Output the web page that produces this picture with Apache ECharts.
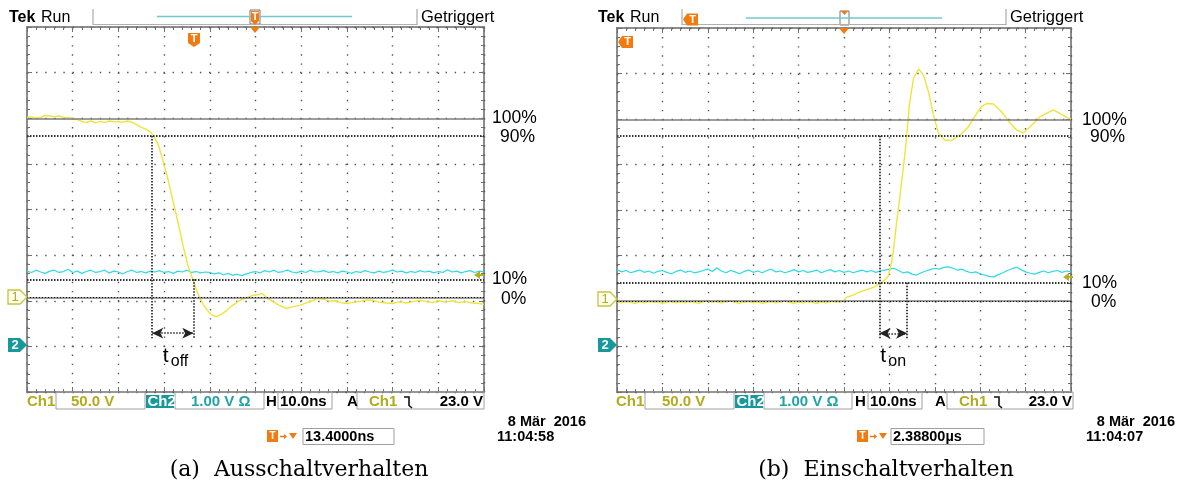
<!DOCTYPE html>
<html><head><meta charset="utf-8">
<script src="https://cdn.jsdelivr.net/npm/echarts@6/dist/echarts.min.js"></script>
<style>html,body{margin:0;padding:0;background:#fff}#c{width:1183px;height:491px}</style>
</head><body><div id="c"></div>
<script>
// ---- data (time in ns, 10 ns/div; amplitude in divisions from screen centre) ----
const tNs = [0,1,2,3,4,5,6,7,8,9,10,11,12,13,14,15,16,17,18,19,20,21,22,23,24,25,26,27,28,29,30,31,32,33,34,35,36,37,38,39,40,41,42,43,44,45,46,47,48,49,50,51,52,53,54,55,56,57,58,59,60,61,62,63,64,65,66,67,68,69,70,71,72,73,74,75,76,77,78,79,80,81,82,83,84,85,86,87,88,89,90,91,92,93,94,95,96,97,98,99,100];

const offCh1 = [[0,2.01],[1,2.03],[2,2.00],[3,2.02],[4,2.06],[5,2.05],[6,2.03],[7,2.05],[8,2.02],[9,2.01],[10,2.00],[11,1.97],[12,1.93],[13,1.91],[14,1.94],[15,1.90],[16,1.93],[17,1.91],[18,1.94],[19,1.92],[20,1.93],[21,1.91],[22,1.94],[23,1.91],[24,1.86],[25,1.80],[26,1.76],[27,1.70],[27.5,1.64],[28,1.56],[28.8,1.40],[29.5,1.16],[30.2,0.90],[30.9,0.64],[31.6,0.33],[32.4,0.00],[33.3,-0.40],[34.2,-0.82],[35.3,-1.26],[36.4,-1.56],[37.2,-1.80],[37.9,-1.95],[38.8,-2.12],[39.7,-2.24],[40.6,-2.32],[41.5,-2.35],[42.5,-2.30],[43.7,-2.21],[45,-2.10],[46.6,-1.99],[48,-1.93],[49.5,-1.88],[50.5,-1.87],[51.4,-1.84],[52.5,-1.93],[53.8,-2.02],[55.2,-2.10],[56.8,-2.17],[58.2,-2.13],[59.7,-2.10],[61,-2.05],[62.4,-2.00],[63.7,-1.95],[65,-1.97],[66.2,-2.01],[67.5,-2.00],[68.7,-2.04],[70,-2.06],[71.5,-2.03],[73,-2.01],[74.5,-1.98],[75.7,-1.99],[77,-2.03],[78.5,-2.05],[80,-2.06],[81.5,-2.02],[83,-2.05],[84.5,-2.02],[86,-1.99],[87.5,-2.02],[88.8,-2.04],[90,-2.00],[91.5,-2.03],[93.2,-2.00],[94.5,-2.04],[96,-2.02],[97.5,-2.05],[99,-2.06],[100,-2.08]];

const offCh2 = [-1.35,-1.38,-1.33,-1.37,-1.40,-1.35,-1.33,-1.38,-1.36,-1.31,
 -1.38,-1.35,-1.40,-1.36,-1.33,-1.38,-1.36,-1.33,-1.39,-1.35,
 -1.37,-1.41,-1.36,-1.33,-1.38,-1.36,-1.39,-1.35,-1.37,-1.34,
 -1.38,-1.36,-1.40,-1.35,-1.37,-1.33,-1.38,-1.36,-1.39,-1.37,
 -1.38,-1.41,-1.39,-1.43,-1.40,-1.44,-1.42,-1.45,-1.41,-1.38,
 -1.36,-1.39,-1.34,-1.37,-1.33,-1.38,-1.36,-1.33,-1.37,-1.39,
 -1.35,-1.38,-1.33,-1.37,-1.36,-1.34,-1.38,-1.36,-1.39,-1.35,
 -1.37,-1.40,-1.36,-1.38,-1.34,-1.37,-1.39,-1.35,-1.38,-1.36,
 -1.33,-1.37,-1.35,-1.39,-1.36,-1.38,-1.34,-1.37,-1.35,-1.39,
 -1.36,-1.38,-1.32,-1.37,-1.35,-1.39,-1.36,-1.34,-1.38,-1.35,-1.37];

const onCh1 = [[0,-2.02],[1,-2.04],[2,-2.01],[3,-2.03],[4,-2.05],[5,-2.02],[6,-2.04],[7,-2.01],[8,-2.03],[9,-2.02],[10,-2.05],[11,-2.03],[12,-2.01],[13,-2.04],[14,-2.02],[15,-2.04],[16,-2.01],[17,-2.03],[18,-2.05],[19,-2.02],[20,-2.00],[21,-2.03],[22,-2.01],[23,-2.04],[24,-2.02],[25,-2.00],[26,-2.03],[27,-2.05],[28,-2.02],[29,-2.01],[30,-2.04],[31,-2.02],[32,-2.05],[33,-2.03],[34,-2.01],[35,-2.04],[36,-2.02],[37,-2.00],[38,-2.03],[39,-2.05],[40,-2.02],[41,-2.04],[42,-2.01],[43,-2.03],[44,-2.05],[45,-2.02],[46,-2.04],[47,-2.02],[48,-2.01],[49,-2.03],[49.8,-2.00],[50.5,-1.92],[52,-1.87],[53.5,-1.80],[55,-1.75],[56.5,-1.70],[57.6,-1.63],[58.5,-1.58],[59.4,-1.50],[59.8,-1.44],[60.5,-1.14],[61.0,-0.80],[61.6,-0.26],[62.2,0.20],[62.7,0.62],[63.2,1.05],[63.7,1.50],[64.4,2.31],[65.3,2.89],[66.4,3.10],[67.5,2.97],[68.6,2.60],[69.7,2.09],[70.8,1.69],[72.2,1.54],[73.7,1.53],[75.6,1.65],[77.4,1.83],[79.2,2.12],[80.4,2.28],[81.4,2.34],[82.9,2.33],[84.7,2.16],[86.6,1.91],[88.0,1.76],[89.5,1.69],[91.0,1.83],[93.2,2.05],[96.1,2.20],[97.6,2.12],[99.4,2.02],[100,2.00]];

const onCh2 = [-1.31,-1.36,-1.33,-1.38,-1.35,-1.32,-1.37,-1.34,-1.39,-1.35,
 -1.33,-1.37,-1.40,-1.35,-1.32,-1.37,-1.34,-1.38,-1.36,-1.33,
 -1.30,-1.35,-1.27,-1.34,-1.38,-1.33,-1.36,-1.40,-1.35,-1.32,
 -1.37,-1.34,-1.38,-1.33,-1.30,-1.36,-1.34,-1.38,-1.35,-1.31,
 -1.36,-1.33,-1.37,-1.35,-1.32,-1.38,-1.34,-1.31,-1.36,-1.33,
 -1.37,-1.34,-1.38,-1.35,-1.32,-1.36,-1.33,-1.37,-1.34,-1.32,
 -1.30,-1.28,-1.33,-1.38,-1.36,-1.41,-1.43,-1.38,-1.34,-1.31,
 -1.28,-1.30,-1.26,-1.25,-1.28,-1.32,-1.30,-1.35,-1.38,-1.36,
 -1.40,-1.43,-1.46,-1.47,-1.42,-1.38,-1.33,-1.29,-1.26,-1.31,
 -1.36,-1.39,-1.41,-1.37,-1.34,-1.38,-1.35,-1.33,-1.37,-1.34,-1.36];

// cursor levels: 100 %, 90 %, 10 %, 0 %
const levelNames = ['100%','90%','10%','0%'];
const offLevels = [2.00, 1.61, -1.53, -1.93];
const onLevels  = [1.98, 1.63, -1.60, -2.00];
const offTimes = [27.4, 36.4];
const onTimes  = [57.8, 63.9];
const arrowLevel = -2.71;
const dropEnd = -2.82;

const timeTicks = {min:0, max:100, interval:10};
const divTicks  = {min:-4, max:4, interval:1};

// ---- chart ----
const FONT = "'Liberation Sans', Arial, sans-serif";
const YEL = '#eee53a', CYA = '#2fd9e6', OLIVE = '#b3ab1e', TEAL = '#17999b', ORANGE = '#f27a0f';

function xAx(grid, pos) {
  return {gridIndex:grid, type:'value', position:pos, min:timeTicks.min, max:timeTicks.max, interval:timeTicks.interval,
    axisLine:{show:false, onZero:false}, axisLabel:{show:false},
    axisTick:{show:true, inside:true, length:5, lineStyle:{color:'#707070', width:1}},
    minorTick:{show:true, splitNumber:5, length:3, lineStyle:{color:'#707070', width:1}},
    splitLine:{show:pos==='bottom', lineStyle:{color:'#555', width:1.4, type:[1.4,7.7]}}};
}
function yAx(grid, pos) {
  return {gridIndex:grid, type:'value', position:pos, min:divTicks.min, max:divTicks.max, interval:divTicks.interval,
    axisLine:{show:false, onZero:false}, axisLabel:{show:false},
    axisTick:{show:true, inside:true, length:5, lineStyle:{color:'#707070', width:1}},
    minorTick:{show:true, splitNumber:5, length:3, lineStyle:{color:'#707070', width:1}},
    splitLine:{show:pos==='left', lineStyle:{color:'#555', width:1.4, type:[1.4,7.7]}}};
}
function cursors(levels, times) {
  const dotted = {color:'#333', width:1.8, type:[1.5,1.5]};
  const solid = {color:'#7c7c7c', width:1.6, type:'solid'};
  return {silent:true, symbol:'none', animation:false, label:{show:false},
    data:[
      {yAxis:levels[0], lineStyle:solid},
      {yAxis:levels[1], lineStyle:dotted},
      {yAxis:levels[2], lineStyle:dotted},
      {yAxis:levels[3], lineStyle:solid},
      {yAxis:levels[3], lineStyle:{color:'#111', width:1, type:[1,2]}},
      [{coord:[times[0], levels[1]], lineStyle:dotted}, {coord:[times[0], dropEnd]}],
      [{coord:[times[1], levels[2]], lineStyle:dotted}, {coord:[times[1], dropEnd]}],
      [{coord:[times[0], arrowLevel], symbol:'arrow', symbolSize:[8,11], lineStyle:{color:'#222', width:1.5, type:[1.5,1.5]}, itemStyle:{color:'#111'}},
       {coord:[times[1], arrowLevel], symbol:'arrow', symbolSize:[8,11]}]
    ]};
}
function ch2Data(vals) { return tNs.map((t,i)=>[t, vals[i]]); }

const option = {
  animation:false, backgroundColor:'#fff',
  grid:[
    {left:27, top:27, width:457, height:365, show:true, borderColor:'#8c8c8c', borderWidth:2, backgroundColor:'#fff'},
    {left:617, top:28, width:454, height:364, show:true, borderColor:'#8c8c8c', borderWidth:2, backgroundColor:'#fff'}
  ],
  xAxis:[xAx(0,'bottom'), xAx(0,'top'), xAx(1,'bottom'), xAx(1,'top')],
  yAxis:[yAx(0,'left'), yAx(0,'right'), yAx(1,'left'), yAx(1,'right')],
  series:[
    {type:'line', xAxisIndex:0, yAxisIndex:0, data:ch2Data(offCh2), showSymbol:false, z:3,
      lineStyle:{color:CYA, width:1.2}, markLine:cursors(offLevels, offTimes)},
    {type:'line', xAxisIndex:0, yAxisIndex:0, data:offCh1, showSymbol:false, z:4, lineStyle:{color:YEL, width:1.4}},
    {type:'line', xAxisIndex:2, yAxisIndex:2, data:ch2Data(onCh2), showSymbol:false, z:3,
      lineStyle:{color:CYA, width:1.2}, markLine:cursors(onLevels, onTimes)},
    {type:'line', xAxisIndex:2, yAxisIndex:2, data:onCh1, showSymbol:false, z:4, lineStyle:{color:YEL, width:1.4}}
  ]
};
const chart = echarts.init(document.getElementById('c'), null, {renderer:'canvas'});
chart.setOption(option);

// ---- decorations ----
const G = [];
function T(x, y, s, o) {
  G.push({type:'text', x:x, y:y, silent:true, z:50,
    style:Object.assign({text:s, fill:'#000', font:'15px '+FONT, textAlign:'left', textVerticalAlign:'middle', align:'left', verticalAlign:'middle'}, o||{})});
}
function P(points, o) { G.push({type:'polygon', silent:true, z:50, shape:{points:points}, style:Object.assign({fill:ORANGE}, o||{})}); }
function L(pts, o) { G.push({type:'polyline', silent:true, z:50, shape:{points:pts}, style:Object.assign({stroke:'#999', lineWidth:1, fill:null}, o||{})}); }
function R(x, y, w, h, o) { G.push({type:'rect', silent:true, z:49, shape:{x:x, y:y, width:w, height:h}, style:Object.assign({fill:null, stroke:'#a0a0a0', lineWidth:1}, o||{})}); }
function downT(cx, top, w) {
  P([[cx-w/2,top],[cx+w/2,top],[cx+w/2,top+10],[cx,top+14],[cx-w/2,top+10]]);
  T(cx, top+6, 'T', {fill:'#fff', font:'bold 11px '+FONT, textAlign:'center', align:'center'});
}
function leftT(left, cy) {
  P([[left,cy],[left+4,cy-6],[left+15,cy-6],[left+15,cy+6],[left+4,cy+6]]);
  T(left+9.5, cy, 'T', {fill:'#fff', font:'bold 11px '+FONT, textAlign:'center', align:'center'});
}
function triDown(cx, top) { P([[cx-5,top],[cx+5,top],[cx,top+6]]); }
function ch1Mark(xl, yc) {
  P([[xl,yc-7],[xl+12,yc-7],[xl+19,yc],[xl+12,yc+7],[xl,yc+7]], {fill:'#fffff2', stroke:'#c9c23c', lineWidth:1.3});
  T(xl+7, yc, '1', {fill:OLIVE, font:'13px '+FONT, textAlign:'center', align:'center'});
}
function ch2Mark(xl, yc) {
  P([[xl,yc-7],[xl+12,yc-7],[xl+19,yc],[xl+12,yc+7],[xl,yc+7]], {fill:TEAL});
  T(xl+7, yc, '2', {fill:'#fff', font:'bold 13px '+FONT, textAlign:'center', align:'center'});
}
function trigLevel(x, y) {
  P([[x,y],[x+6,y-4],[x+6,y+4]], {fill:'#b5ad22'});
  L([[x+5,y],[x+10,y]], {stroke:'#b5ad22', lineWidth:2});
}

function header(o) {
  T(o.tek, 17.5, 'Tek', {font:'bold 16px '+FONT});
  T(o.tek+32, 17.5, 'Run', {font:'16px '+FONT});
  L([[o.sep1,9],[o.sep1,25]]);
  L([[o.sep1,24.5],[o.sep2,24.5]], {stroke:'#b0b0b0'});
  L([[o.sep2,9],[o.sep2,25]]);
  T(o.sep2+4, 17, 'Getriggert', {font:'16.5px '+FONT});
  L([[o.cy0,o.cyY],[o.cy1,o.cyY]], {stroke:'#70c8cc', lineWidth:1.6});
}
function status(o) {
  const B = 'bold 15px '+FONT;
  T(o.ch1, 402, 'Ch1', {fill:OLIVE, font:B});
  R(o.b1[0], 392, o.b1[1]-o.b1[0], 17);
  T(o.v1, 402, '50.0 V', {fill:OLIVE, font:B});
  R(o.ch2[0], 395, o.ch2[1]-o.ch2[0], 13, {fill:TEAL, stroke:null});
  T(o.ch2[0]+1.5, 402, 'Ch2', {fill:'#fff', font:B});
  R(o.b2[0], 392, o.b2[1]-o.b2[0], 17);
  T(o.v2, 402, '1.00 V Ω', {fill:'#23a3a5', font:B});
  T(o.h, 402, 'H', {font:B});
  R(o.b3[0], 392, o.b3[1]-o.b3[0], 17);
  T(o.b3[0]+2, 402, '10.0ns', {font:B});
  T(o.a, 402, 'A', {font:B});
  R(o.b4[0], 392, o.b4[1]-o.b4[0], 17);
  T(o.b4[0]+12, 402, 'Ch1', {fill:OLIVE, font:B});
  const s = o.b4[0]+47;
  L([[s,397],[s+5,397],[s+5,405.5],[s+8,408]], {stroke:'#111', lineWidth:1.6});
  T(o.b4[1]-1, 402, '23.0 V', {font:B, textAlign:'right', align:'right'});
  // trigger offset readout
  R(o.ti, 430, 11, 12, {fill:ORANGE, stroke:null, r:2});
  T(o.ti+5.5, 436.5, 'T', {fill:'#fff', font:'bold 10px '+FONT, textAlign:'center', align:'center'});
  L([[o.ti+13,436.5],[o.ti+19,436.5]], {stroke:ORANGE, lineWidth:1.5});
  P([[o.ti+17,434],[o.ti+20,436.5],[o.ti+17,439]]);
  P([[o.ti+22,433],[o.ti+30,433],[o.ti+26,439]]);
  R(o.tb[0], 428.5, o.tb[1]-o.tb[0], 16);
  T(o.tb[0]+2, 436.5, o.tval, {font:'bold 14.5px '+FONT});
  T(o.dateR, 422, '8 Mär  2016', {font:'bold 14.5px '+FONT, textAlign:'right', align:'right'});
  T(o.timeL, 437, o.clock, {font:'bold 14.5px '+FONT});
}

// left scope
header({tek:9, sep1:93, sep2:417, cy0:157, cy1:352, cyY:16.5});
R(250, 10, 10, 14, {stroke:'#777', lineWidth:1});
downT(255, 11, 8);
triDown(255, 27);
downT(194, 33, 12);
ch1Mark(8, 297); ch2Mark(8, 345);
trigLevel(474, 275);
status({ch1:27, b1:[56,145], v1:71, ch2:[146,174], b2:[175,264], v2:191, h:266, b3:[278,332], a:347, b4:[357,484],
  ti:267, tb:[303,394], tval:'13.4000ns', dateR:586, timeL:497, clock:'11:04:58'});

// right scope
header({tek:598, sep1:682, sep2:1006, cy0:746, cy1:942, cyY:18});
leftT(683, 19.5);
R(840, 11, 9, 14, {stroke:'#777', lineWidth:1});
P([[841,11],[848,11],[844.5,15]]);
triDown(844, 28);
leftT(618, 42);
ch1Mark(598, 299); ch2Mark(598, 345);
trigLevel(1063, 277);
status({ch1:616, b1:[645,734], v1:662, ch2:[735,763], b2:[764,852], v2:779, h:855, b3:[868,922], a:935, b4:[947,1073],
  ti:857, tb:[891,984], tval:'2.38800µs', dateR:1175, timeL:1086, clock:'11:04:07'});

// level labels, positioned from the axes
const labelDx = [0, 8, 0, 9];
const labelDy = [0, 1, 0, 1.5];
function levelLabels(xIdx, yIdx, levels, x0) {
  levels.forEach((lv, i) => {
    const p = chart.convertToPixel({xAxisIndex:xIdx, yAxisIndex:yIdx}, [100, lv]);
    T(x0 + labelDx[i], p[1] + labelDy[i], levelNames[i], {font:'17.5px '+FONT});
  });
}
levelLabels(0, 0, offLevels, 492);
levelLabels(2, 2, onLevels, 1082);

// t_off / t_on labels below the arrows
function tLabel(xIdx, yIdx, times, sub, dx) {
  const mid = (times[0] + times[1]) / 2;
  const p = chart.convertToPixel({xAxisIndex:xIdx, yAxisIndex:yIdx}, [mid, arrowLevel]);
  T(p[0] + dx, p[1] + 23, 't', {font:'21px '+FONT});
  T(p[0] + dx + 8, p[1] + 28, sub, {font:'16px '+FONT});
}
tLabel(0, 0, offTimes, 'off', -10);
tLabel(2, 2, onTimes, 'on', -13);

// captions
T(299, 470, '(a)  Ausschaltverhalten', {font:"22px 'DejaVu Serif', 'Liberation Serif', serif", textAlign:'center', align:'center'});
T(886, 470, '(b)  Einschaltverhalten', {font:"22px 'DejaVu Serif', 'Liberation Serif', serif", textAlign:'center', align:'center'});

chart.setOption({graphic:{elements:G}});
</script></body></html>
